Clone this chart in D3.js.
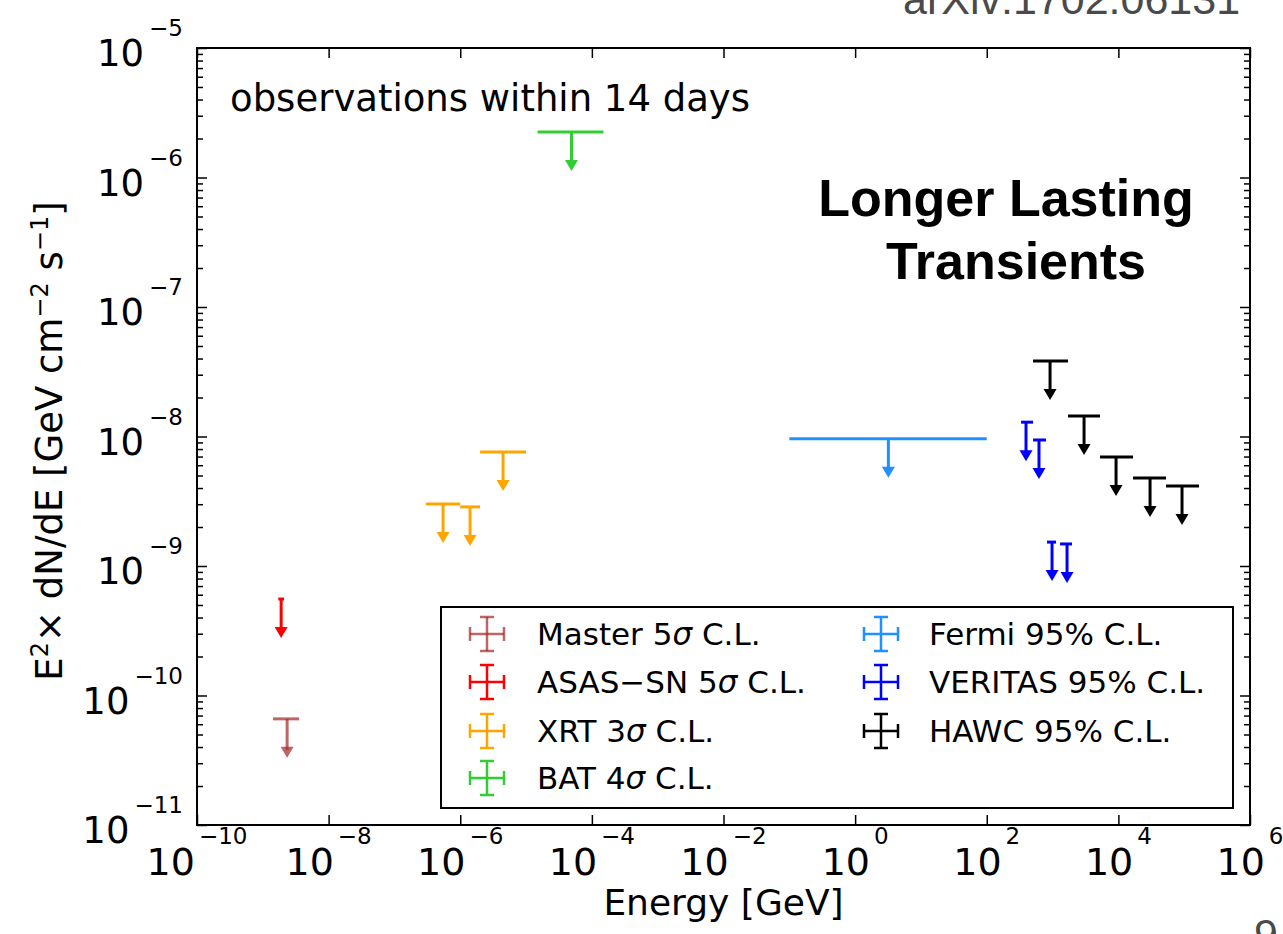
<!DOCTYPE html>
<html>
<head>
<meta charset="utf-8">
<script src="https://cdnjs.cloudflare.com/ajax/libs/d3/7.8.5/d3.min.js"></script>
<style>
  body { margin: 0; background: #fff; }
  text { font-family: "DejaVu Sans", sans-serif; }
</style>
</head>
<body>
<svg id="chart" width="1283" height="934"></svg>
<script>
// Upper limits: energy bin centre / edges in GeV, E^2 dN/dE limit in GeV cm^-2 s^-1
const masterEnergy   = [2.34e-9];
const masterEnergyLo = [1.43e-9];
const masterEnergyHi = [3.56e-9];
const masterFlux     = [6.6e-11];

const asasEnergy   = [1.9e-9];
const asasEnergyLo = [1.72e-9];
const asasEnergyHi = [2.1e-9];
const asasFlux     = [5.56e-10];

const xrtEnergy   = [5.48e-7, 1.41e-6, 4.47e-6];
const xrtEnergyLo = [3.0e-7, 1.0e-6, 2.0e-6];
const xrtEnergyHi = [1.0e-6, 2.0e-6, 1.0e-5];
const xrtFlux     = [3.01e-9, 2.86e-9, 7.59e-9];

const batEnergy   = [4.9e-5];
const batEnergyLo = [1.5e-5];
const batEnergyHi = [1.5e-4];
const batFlux     = [2.25e-6];

const fermiEnergy   = [3.2];
const fermiEnergyLo = [0.1];
const fermiEnergyHi = [100];
const fermiFlux     = [9.6e-9];

const veritasEnergy   = [395, 622, 982, 1660];
const veritasEnergyLo = [332, 505, 824, 1300];
const veritasEnergyHi = [505, 796, 1130, 1977];
const veritasFlux     = [1.29e-8, 9.4e-9, 1.53e-9, 1.48e-9];

const hawcEnergy   = [916, 3010, 9220, 30300, 92700];
const hawcEnergyLo = [505, 1718, 5260, 16700, 53000];
const hawcEnergyHi = [1718, 5260, 16700, 53000, 168000];
const hawcFlux     = [3.83e-8, 1.44e-8, 6.95e-9, 4.78e-9, 4.15e-9];

// Legend entries, in column order
const legendNames = ["Master", "ASAS\u2212SN", "XRT", "BAT", "Fermi", "VERITAS", "HAWC"];
const legendLevels = ["5", "5", "3", "4", "95%", "95%", "95%"];

// Tick exponents
const xTickExponents = [-10, -8, -6, -4, -2, 0, 2, 4, 6];
const yTickExponents = [-11, -10, -9, -8, -7, -6, -5];

const seriesColors = ["#a52a2a", "#ff0000", "#ffa500", "#32cd32", "#1e90ff", "#0000ff", "#000000"];
const seriesOpacity = [0.72, 1, 1, 1, 1, 1, 1];

const series = [
  [masterEnergy, masterEnergyLo, masterEnergyHi, masterFlux],
  [asasEnergy, asasEnergyLo, asasEnergyHi, asasFlux],
  [xrtEnergy, xrtEnergyLo, xrtEnergyHi, xrtFlux],
  [batEnergy, batEnergyLo, batEnergyHi, batFlux],
  [fermiEnergy, fermiEnergyLo, fermiEnergyHi, fermiFlux],
  [veritasEnergy, veritasEnergyLo, veritasEnergyHi, veritasFlux],
  [hawcEnergy, hawcEnergyLo, hawcEnergyHi, hawcFlux]
].map((s, i) => ({
  color: seriesColors[i],
  opacity: seriesOpacity[i],
  points: s[0].map((e, j) => ({ e, lo: s[1][j], hi: s[2][j], f: s[3][j] }))
}));

const svg = d3.select("#chart");
const plot = { left: 197, top: 48, right: 1250, bottom: 825 };

const x = d3.scaleLog().domain([1e-10, 1e6]).range([plot.left, plot.right]);
const y = d3.scaleLog().domain([1e-11, 1e-5]).range([plot.bottom, plot.top]);

const majorX = xTickExponents.map(p => Math.pow(10, p));
const majorY = yTickExponents.map(p => Math.pow(10, p));
const minorY = [];
yTickExponents.slice(0, -1).forEach(p => {
  for (let k = 2; k <= 9; k++) minorY.push(k * Math.pow(10, p));
});

// Tick marks on all four sides, pointing inwards
function ticks(axis, values, size, transform) {
  const g = svg.append("g").attr("transform", transform)
    .call(axis.tickValues(values).tickSizeInner(-size).tickSizeOuter(0).tickFormat(""));
  g.select(".domain").remove();
  g.selectAll(".tick line").attr("stroke", "#000").attr("stroke-width", 1.5);
}
ticks(d3.axisBottom(x), majorX, 10, `translate(0,${plot.bottom})`);
ticks(d3.axisTop(x), majorX, 10, `translate(0,${plot.top})`);
ticks(d3.axisLeft(y), majorY, 10, `translate(${plot.left},0)`);
ticks(d3.axisLeft(y), minorY, 6, `translate(${plot.left},0)`);
ticks(d3.axisRight(y), majorY, 10, `translate(${plot.right},0)`);
ticks(d3.axisRight(y), minorY, 6, `translate(${plot.right},0)`);

svg.append("rect")
  .attr("x", plot.left).attr("y", plot.top)
  .attr("width", plot.right - plot.left).attr("height", plot.bottom - plot.top)
  .attr("fill", "none").attr("stroke", "#000").attr("stroke-width", 2);

// Power-of-ten tick labels
const expLabel = p => (p < 0 ? "\u2212" + (-p) : String(p));

const xl = svg.append("g");
xTickExponents.forEach(p => {
  const t = xl.append("text")
    .attr("x", x(Math.pow(10, p))).attr("y", 875)
    .attr("text-anchor", "middle").attr("font-size", 38).attr("fill", "#000");
  t.append("tspan").text("10");
  t.append("tspan").attr("dx", 4).attr("dy", -31).attr("font-size", 23).text(expLabel(p));
});

const yl = svg.append("g");
yTickExponents.forEach(p => {
  const t = yl.append("text")
    .attr("x", 183).attr("y", y(Math.pow(10, p)) + 18)
    .attr("text-anchor", "end").attr("font-size", 37).attr("fill", "#000");
  t.append("tspan").text("10");
  t.append("tspan").attr("dx", 5).attr("dy", -30).attr("font-size", 23).text(expLabel(p));
});

// Axis titles
svg.append("text")
  .attr("x", (plot.left + plot.right) / 2).attr("y", 915)
  .attr("text-anchor", "middle").attr("font-size", 36).attr("fill", "#000")
  .text("Energy [GeV]");

const yt = svg.append("text")
  .attr("transform", "translate(62,441) rotate(-90)")
  .attr("text-anchor", "middle").attr("font-size", 37).attr("fill", "#000");
yt.append("tspan").text("E");
yt.append("tspan").attr("dy", -14).attr("font-size", 24).text("2");
yt.append("tspan").attr("dy", 14).text("\u00d7 dN/dE [GeV cm");
yt.append("tspan").attr("dy", -14).attr("font-size", 24).text("\u22122");
yt.append("tspan").attr("dy", 14).text(" s");
yt.append("tspan").attr("dy", -14).attr("font-size", 24).text("\u22121");
yt.append("tspan").attr("dy", 14).text("]");

// Upper-limit markers: energy bin bar, drop line to half the limit, arrow head
const marks = svg.append("g");
series.forEach(s => {
  const g = marks.append("g");
  s.points.forEach(d => {
    const cx = x(d.e), cy = y(d.f), tip = y(d.f / 2);
    g.append("line")
      .attr("x1", x(d.lo)).attr("x2", x(d.hi)).attr("y1", cy).attr("y2", cy)
      .attr("stroke", s.color).attr("stroke-opacity", s.opacity).attr("stroke-width", 3);
    g.append("line")
      .attr("x1", cx).attr("x2", cx).attr("y1", cy).attr("y2", tip - 8)
      .attr("stroke", s.color).attr("stroke-opacity", s.opacity).attr("stroke-width", 3);
    g.append("path")
      .attr("d", `M${cx - 6.5},${tip - 11}L${cx + 6.5},${tip - 11}L${cx},${tip}Z`)
      .attr("fill", s.color).attr("fill-opacity", s.opacity);
  });
});

// Annotations
svg.append("text")
  .attr("x", 230).attr("y", 111).attr("font-size", 37).attr("fill", "#000")
  .text("observations within 14 days");

const bold = svg.append("g")
  .attr("font-weight", "bold").attr("font-size", 52).attr("fill", "#000");
bold.append("text").attr("x", 1006).attr("y", 216).attr("text-anchor", "middle")
  .style("font-family", "Liberation Sans, Arial, sans-serif").text("Longer Lasting");
bold.append("text").attr("x", 1016).attr("y", 279).attr("text-anchor", "middle")
  .style("font-family", "Liberation Sans, Arial, sans-serif").text("Transients");

svg.append("text")
  .attr("x", 903).attr("y", 14).attr("font-size", 43).attr("fill", "#4a4a4a")
  .style("font-family", "Liberation Sans, Arial, sans-serif")
  .text("arXiv:1702.06131");
svg.append("text")
  .attr("x", 1266).attr("y", 949).attr("text-anchor", "middle")
  .attr("font-size", 43).attr("fill", "#4a4a4a")
  .style("font-family", "Liberation Sans, Arial, sans-serif")
  .text("9");

// Legend
const legend = svg.append("g");
legend.append("rect")
  .attr("x", 441).attr("y", 607).attr("width", 792).attr("height", 201)
  .attr("fill", "#fff").attr("stroke", "#000").attr("stroke-width", 2);

const rowY = [634, 682, 731, 778];
legendNames.forEach((name, i) => {
  const col = i < 4 ? 0 : 1;
  const row = i < 4 ? i : i - 4;
  const mx = col === 0 ? 487 : 881;
  const tx = col === 0 ? 537 : 929;
  const cy = rowY[row];
  const s = series[i];
  const gm = legend.append("g")
    .attr("stroke", s.color).attr("stroke-opacity", s.opacity).attr("stroke-width", 2.5);
  gm.append("line").attr("x1", mx - 17).attr("x2", mx + 17).attr("y1", cy).attr("y2", cy);
  gm.append("line").attr("x1", mx).attr("x2", mx).attr("y1", cy - 17).attr("y2", cy + 17);
  gm.append("line").attr("x1", mx - 17).attr("x2", mx - 17).attr("y1", cy - 7).attr("y2", cy + 7);
  gm.append("line").attr("x1", mx + 17).attr("x2", mx + 17).attr("y1", cy - 7).attr("y2", cy + 7);
  gm.append("line").attr("x1", mx - 7).attr("x2", mx + 7).attr("y1", cy - 17).attr("y2", cy - 17);
  gm.append("line").attr("x1", mx - 7).attr("x2", mx + 7).attr("y1", cy + 17).attr("y2", cy + 17);

  const t = legend.append("text")
    .attr("x", tx).attr("y", cy + 11).attr("font-size", 31).attr("fill", "#000");
  const lvl = legendLevels[i];
  if (lvl.endsWith("%")) {
    t.text(`${name} ${lvl} C.L.`);
  } else {
    t.append("tspan").text(`${name} ${lvl}`);
    t.append("tspan").attr("font-style", "italic").text("\u03c3");
    t.append("tspan").text(" C.L.");
  }
});
</script>
</body>
</html>
